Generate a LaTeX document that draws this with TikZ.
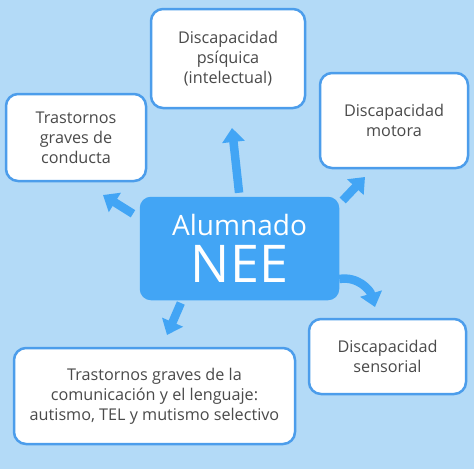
\documentclass[tikz,border=0pt]{standalone}
\usepackage{fontspec}
\setmainfont{Open Sans}
\usetikzlibrary{arrows.meta}
\definecolor{bgblue}{HTML}{B3DAF7}
\definecolor{nodeblue}{HTML}{42A5F5}
\definecolor{lineblue}{HTML}{4C9DEB}
\definecolor{textgray}{HTML}{4A4A4A}
\tikzset{%
  topic/.style  = {shape=rectangle, rounded corners=12pt,%
                   draw=lineblue, line width=2.5pt, fill=white,%
                   align=center, text=textgray, inner sep=0pt,%
                   font=\fontsize{16.2}{20}\selectfont},%
  core/.style   = {topic, draw=nodeblue, fill=nodeblue, text=white,%
                   rounded corners=10pt, font=\fontsize{52}{47}\selectfont},%
  branch/.style = {draw=nodeblue, line width=8.5pt,%
                   -{Triangle[width=22pt,length=14pt]}}%
}
\begin{document}
\begin{tikzpicture}[x=1pt,y=-1pt]
	\fill[bgblue] (0,0) rectangle (474,469);
	\useasboundingbox (0,0) rectangle (474,469);
	% centre
	\node[core, minimum width=197pt, minimum height=101pt] (nee) at (239.5,248.5)
		{{\fontsize{28}{30}\selectfont Alumnado}\\ NEE};
	% topics
	\node[topic, minimum width=154pt, minimum height=99pt] (psiquica) at (228,58.5)
		{Discapacidad\\ psíquica\\ (intelectual)};
	\node[topic, minimum width=140pt, minimum height=87pt] (conducta) at (76,137.5)
		{Trastornos\\ graves de\\ conducta};
	\node[topic, minimum width=148pt, minimum height=95pt] (motora) at (394,120.5)
		{Discapacidad\\ motora};
	\node[topic, minimum width=157pt, minimum height=75pt] (sensorial) at (387.5,356.5)
		{Discapacidad\\ sensorial};
	\node[topic, minimum width=281pt, minimum height=96pt] (comunicacion) at (154.5,396)
		{Trastornos graves de la\\ comunicación y el lenguaje:\\ autismo, TEL y mutismo selectivo};
	% arrow tips
	\coordinate (tip-psiquica) at (232,128);
	\coordinate (tip-conducta) at (103,195);
	\coordinate (tip-motora) at (365,177);
	\coordinate (tip-sensorial) at (375,307);
	\coordinate (tip-comunicacion) at (167,335);
	\draw[branch, shorten <=4pt] (nee.north) -- (tip-psiquica);
	\draw[branch, shorten <=8pt] (nee.163) -- (tip-conducta);
	\draw[branch, shorten <=5pt] (nee.24) -- (tip-motora);
	\draw[branch, shorten <=3pt] (nee.222) -- (tip-comunicacion);
	\draw[branch] (nee.-17) .. controls (358,276) and (370,290) .. (tip-sensorial);
\end{tikzpicture}
\end{document}
